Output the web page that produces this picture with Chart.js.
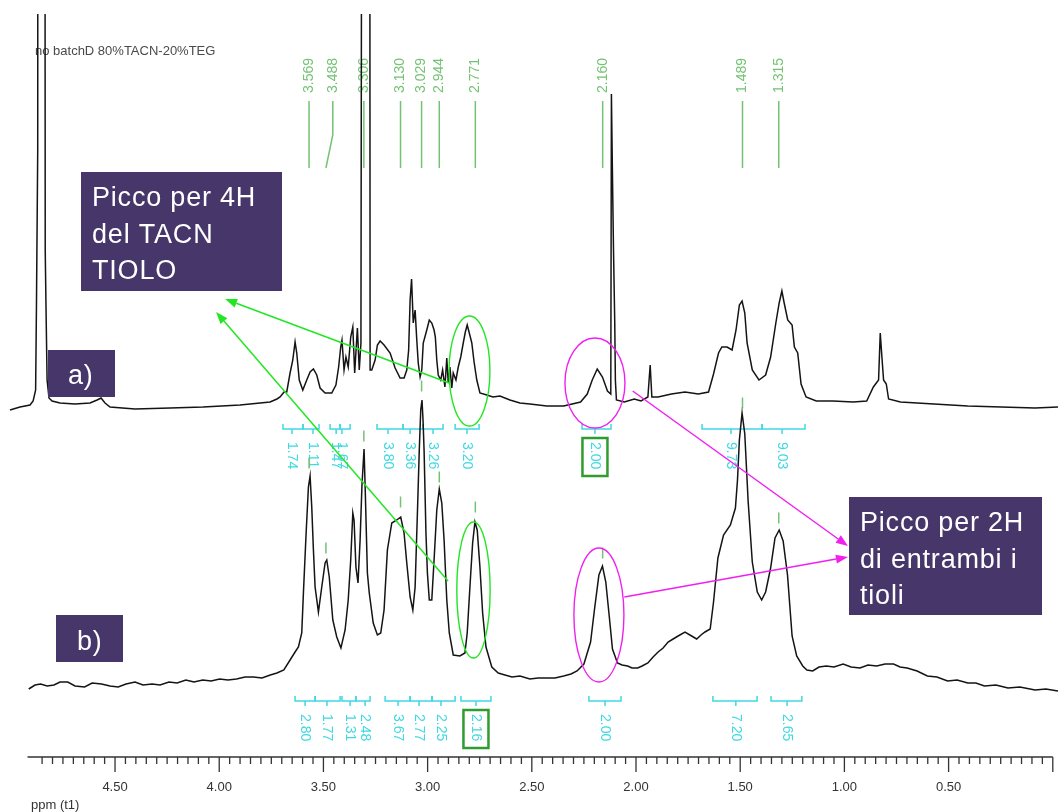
<!DOCTYPE html>
<html>
<head>
<meta charset="utf-8">
<title>1H NMR – TACN / TEG</title>
<script src="https://cdn.jsdelivr.net/npm/chart.js@4.4.1/dist/chart.umd.min.js"></script>
<style>
  html, body { margin: 0; padding: 0; background: #ffffff; }
  canvas { display: block; }
</style>
</head>
<body>
<canvas id="nmr" width="1058" height="812"></canvas>
<script>
// ---------- spectrum a) : chemical shift (ppm) and intensity ----------
const shiftA = [
  5.004, 4.956, 4.908, 4.893, 4.881, 4.877, 4.871, 4.869, 4.838, 4.835,
  4.831, 4.826, 4.817, 4.802, 4.764, 4.692, 4.620, 4.586, 4.567, 4.548,
  4.524, 4.404, 4.236, 4.078, 3.900, 3.756, 3.723, 3.708, 3.689, 3.676,
  3.660, 3.647, 3.636, 3.628, 3.616, 3.599, 3.580, 3.564, 3.548, 3.532,
  3.516, 3.492, 3.460, 3.440, 3.427, 3.417, 3.411, 3.401, 3.392, 3.381,
  3.369, 3.359, 3.350, 3.337, 3.328, 3.320, 3.312, 3.279, 3.276, 3.268,
  3.252, 3.241, 3.228, 3.209, 3.180, 3.156, 3.132, 3.113, 3.100, 3.091,
  3.084, 3.077, 3.069, 3.060, 3.052, 3.045, 3.036, 3.028, 3.021, 3.004,
  2.992, 2.980, 2.969, 2.963, 2.956, 2.949, 2.937, 2.928, 2.917, 2.908,
  2.901, 2.893, 2.884, 2.877, 2.864, 2.853, 2.841, 2.829, 2.819, 2.810,
  2.800, 2.788, 2.777, 2.764, 2.749, 2.716, 2.686, 2.653, 2.605, 2.557,
  2.509, 2.428, 2.347, 2.266, 2.234, 2.210, 2.186, 2.161, 2.137, 2.121,
  2.118, 2.114, 2.108, 2.102, 2.099, 2.094, 2.056, 2.008, 1.976, 1.943,
  1.932, 1.924, 1.894, 1.830, 1.765, 1.701, 1.652, 1.628, 1.604, 1.588,
  1.563, 1.539, 1.520, 1.504, 1.491, 1.478, 1.467, 1.442, 1.410, 1.378,
  1.354, 1.329, 1.313, 1.300, 1.289, 1.272, 1.251, 1.240, 1.224, 1.208,
  1.184, 1.135, 1.055, 0.958, 0.893, 0.861, 0.836, 0.828, 0.820, 0.812,
  0.799, 0.788, 0.731, 0.570, 0.408, 0.247, 0.085, -0.025
];
const intensA = [
  0, 3, 5, 9, 20, 105, 260, 1200, 1200, 160,
  100, 30, 12, 9, 7, 6, 7, 10, 12, 7,
  3, 1, 2, 3, 5, 8, 11, 13, 18, 18,
  37, 50, 68, 57, 30, 20, 30, 38, 41, 35,
  22, 17, 17, 25, 43, 63, 70, 40, 53, 43,
  73, 83, 37, 82, 40, 67, 1200, 1200, 40, 40,
  50, 65, 69, 65, 57, 42, 32, 32, 40, 60,
  110, 131, 87, 100, 70, 47, 33, 40, 67, 80,
  90, 87, 80, 73, 50, 35, 30, 40, 23, 52,
  27, 43, 22, 37, 30, 43, 53, 67, 78, 85,
  77, 67, 48, 30, 17, 15, 13, 14, 10, 7,
  6, 4, 4, 8, 16, 30, 41, 33, 19, 16,
  316, 250, 160, 87, 30, 10, 8, 11, 9, 13,
  45, 13, 13, 16, 18, 16, 18, 36, 57, 63,
  63, 60, 80, 105, 109, 97, 67, 40, 30, 35,
  53, 87, 107, 119, 107, 90, 85, 63, 57, 26,
  13, 9, 9, 8, 9, 23, 30, 77, 53, 30,
  26, 11, 8, 6, 4, 3, 2, 3
];

// ---------- spectrum b) ----------
const shiftB = [
  4.914, 4.884, 4.857, 4.826, 4.793, 4.764, 4.727, 4.692, 4.646, 4.610,
  4.565, 4.524, 4.485, 4.447, 4.404, 4.366, 4.322, 4.284, 4.241, 4.202,
  4.160, 4.121, 4.079, 4.039, 3.998, 3.958, 3.917, 3.876, 3.836, 3.795,
  3.755, 3.723, 3.690, 3.660, 3.636, 3.620, 3.604, 3.596, 3.583, 3.572,
  3.564, 3.556, 3.548, 3.540, 3.524, 3.508, 3.492, 3.484, 3.472, 3.455,
  3.436, 3.416, 3.396, 3.381, 3.369, 3.359, 3.353, 3.344, 3.334, 3.324,
  3.315, 3.305, 3.299, 3.289, 3.280, 3.261, 3.241, 3.225, 3.209, 3.193,
  3.172, 3.148, 3.129, 3.113, 3.100, 3.084, 3.071, 3.060, 3.049, 3.040,
  3.033, 3.027, 3.022, 3.017, 3.008, 3.001, 2.992, 2.980, 2.969, 2.956,
  2.944, 2.932, 2.921, 2.908, 2.896, 2.877, 2.845, 2.821, 2.810, 2.797,
  2.784, 2.773, 2.762, 2.749, 2.736, 2.720, 2.692, 2.661, 2.629, 2.595,
  2.557, 2.509, 2.470, 2.428, 2.389, 2.347, 2.312, 2.283, 2.250, 2.218,
  2.199, 2.178, 2.161, 2.145, 2.129, 2.113, 2.089, 2.067, 2.040, 2.019,
  1.992, 1.971, 1.943, 1.918, 1.894, 1.870, 1.846, 1.822, 1.798, 1.765,
  1.733, 1.709, 1.688, 1.669, 1.644, 1.628, 1.607, 1.580, 1.547, 1.523,
  1.513, 1.504, 1.491, 1.478, 1.462, 1.442, 1.418, 1.397, 1.378, 1.354,
  1.333, 1.313, 1.294, 1.273, 1.251, 1.229, 1.200, 1.180, 1.152, 1.122,
  1.087, 1.050, 1.006, 0.968, 0.925, 0.887, 0.845, 0.805, 0.764, 0.733,
  0.699, 0.651, 0.602, 0.556, 0.505, 0.459, 0.408, 0.369, 0.328, 0.273,
  0.215, 0.158, 0.085, 0.033, -0.025
];
const intensB = [
  1, 5, 6, 4, 5, 8, 8, 4, 3, 7,
  6, 4, 3, 6, 8, 5, 6, 5, 8, 7,
  10, 8, 10, 9, 11, 10, 11, 13, 13, 12,
  15, 17, 20, 30, 38, 43, 57, 97, 157, 203,
  214, 183, 140, 103, 78, 103, 127, 130, 113, 70,
  53, 42, 60, 90, 130, 177, 170, 123, 107, 150,
  205, 241, 197, 117, 97, 67, 55, 57, 80, 140,
  167, 170, 173, 157, 127, 93, 80, 103, 177, 240,
  280, 290, 270, 240, 157, 117, 90, 90, 130, 180,
  201, 187, 150, 90, 57, 35, 34, 37, 57, 103,
  147, 168, 160, 123, 77, 43, 23, 17, 15, 13,
  14, 11, 12, 12, 12, 14, 16, 19, 26, 48,
  81, 115, 124, 108, 75, 41, 27, 25, 24, 22,
  22, 24, 27, 33, 38, 42, 48, 51, 54, 58,
  54, 51, 55, 58, 61, 88, 132, 155, 165, 182,
  210, 250, 277, 256, 189, 128, 98, 90, 98, 122,
  152, 160, 149, 115, 54, 34, 24, 20, 19, 23,
  24, 23, 26, 23, 22, 25, 24, 26, 26, 23,
  22, 19, 14, 13, 9, 10, 7, 7, 4, 5,
  2, 3, 0, 1, -1
];

// ---------- peak picking ----------
const peakShifts   = [3.569, 3.488, 3.306, 3.130, 3.029, 2.944, 2.771, 2.160, 1.489, 1.315];
const peakLabelAt  = [3.569, 3.455, 3.306, 3.130, 3.029, 2.944, 2.771, 2.160, 1.489, 1.315];
const peakMarkB    = [227, 142, 254, 188, 304, 213, 183, 137, 287, 172];

// ---------- integrals, spectrum a) ----------
const integAFrom  = [3.694, 3.598, 3.468, 3.420, 3.243, 3.118, 3.022, 2.868, 2.259, 1.683, 1.395];
const integATo    = [3.598, 3.521, 3.420, 3.372, 3.118, 3.022, 2.926, 2.753, 2.120, 1.395, 1.189];
const integAMid   = [3.651, 3.550, 3.439, 3.411, 3.190, 3.084, 2.974, 2.811, 2.197, 1.544, 1.299];
const integAValue = ["1.74", "1.11", "1.47", "1.67", "3.80", "3.36", "3.26", "3.20", "2.00", "9.73", "9.03"];
const integARef   = 8;

// ---------- integrals, spectrum b) ----------
const integBFrom  = [3.636, 3.540, 3.411, 3.344, 3.204, 3.084, 2.979, 2.840, 2.226, 1.631, 1.352];
const integBTo    = [3.540, 3.420, 3.344, 3.276, 3.084, 2.979, 2.868, 2.696, 2.072, 1.419, 1.204];
const integBMid   = [3.588, 3.483, 3.372, 3.300, 3.142, 3.041, 2.936, 2.768, 2.149, 1.521, 1.275];
const integBValue = ["2.80", "1.77", "1.31", "2.48", "3.67", "2.77", "2.25", "2.16", "2.00", "7.20", "2.65"];
const integBRef   = 7;

// ---------- axis ----------
const axisLabels = ["4.50", "4.00", "3.50", "3.00", "2.50", "2.00", "1.50", "1.00", "0.50"];
const sampleTitle = "no batchD 80%TACN-20%TEG";
const axisTitle = "ppm (t1)";

// ---------- look ----------
const FONT = '"Liberation Sans", Arial, Helvetica, sans-serif';
const INK = '#141414';
const PEAK_GREEN = '#74c274';
const INTEG_CYAN = '#40d8e2';
const REF_GREEN = '#2f9c2f';
const ARROW_GREEN = '#22e622';
const ARROW_MAGENTA = '#f020f0';
const BOX_PURPLE = '#46366a';

// callouts: ends given as [ppm, intensity, axis]
const calloutEllipses = [
  { c: [2.799, 39, 'ya'], hw: 0.098, hh: 55, color: ARROW_GREEN },
  { c: [2.780, 100, 'yb'], hw: 0.080, hh: 68, color: ARROW_GREEN },
  { c: [2.197, 27, 'ya'], hw: 0.144, hh: 45, color: ARROW_MAGENTA },
  { c: [2.178, 75, 'yb'], hw: 0.120, hh: 67, color: ARROW_MAGENTA }
];
const calloutArrows = [
  { from: [2.897, 27, 'ya'], to: [3.972, 111, 'ya'], color: ARROW_GREEN },
  { from: [2.902, 109, 'yb'], to: [4.015, 378, 'yb'], color: ARROW_GREEN },
  { from: [2.016, 19, 'ya'], to: [0.983, -136, 'ya'], color: ARROW_MAGENTA },
  { from: [2.056, 93, 'yb'], to: [0.983, 133, 'yb'], color: ARROW_MAGENTA }
];
const calloutBoxes = [
  { x: 81, y: 172, w: 201, h: 119, lines: ["Picco per 4H", "del TACN", "TIOLO"], tx: 92, ty: 206 },
  { x: 849, y: 497, w: 193, h: 118, lines: ["Picco per 2H", "di entrambi i", "tioli"], tx: 860, ty: 531 },
  { x: 48, y: 350, w: 67, h: 47, lines: ["a)"], tx: 68, ty: 384 },
  { x: 56, y: 615, w: 67, h: 47, lines: ["b)"], tx: 77, ty: 650 }
];

function pt(chart, p) {
  return [chart.scales.x.getPixelForValue(p[0]), chart.scales[p[2]].getPixelForValue(p[1])];
}

function drawIntegrals(ctx, xs, yLine, from, to, mid, vals, ref) {
  ctx.strokeStyle = INTEG_CYAN;
  ctx.fillStyle = INTEG_CYAN;
  ctx.lineWidth = 1.5;
  for (let i = 0; i < from.length; i++) {
    const x0 = xs.getPixelForValue(from[i]);
    const x1 = xs.getPixelForValue(to[i]);
    const xm = xs.getPixelForValue(mid[i]);
    ctx.beginPath();
    ctx.moveTo(x0, yLine - 5); ctx.lineTo(x0, yLine); ctx.lineTo(x1, yLine); ctx.lineTo(x1, yLine - 5);
    ctx.moveTo(xm, yLine); ctx.lineTo(xm, yLine + 5);
    ctx.stroke();
    ctx.save();
    ctx.translate(xm, yLine + 13);
    ctx.rotate(Math.PI / 2);
    ctx.font = '14px ' + FONT;
    ctx.textAlign = 'left';
    ctx.textBaseline = 'middle';
    ctx.fillText(vals[i], 0, 0);
    ctx.restore();
    if (i === ref) {
      ctx.save();
      ctx.strokeStyle = REF_GREEN;
      ctx.lineWidth = 2.5;
      ctx.strokeRect(xm - 12.5, yLine + 9, 25, 38);
      ctx.restore();
    }
  }
}

const nmrDecor = {
  id: 'nmrDecor',
  beforeDatasetsDraw(chart) {
    const { ctx } = chart;
    const xs = chart.scales.x;
    ctx.save();

    // sample title
    ctx.fillStyle = '#4a4a4a';
    ctx.font = '13px ' + FONT;
    ctx.textAlign = 'left';
    ctx.textBaseline = 'middle';
    ctx.fillText(sampleTitle, 35, 51);

    // peak list of spectrum a) with leader lines
    peakShifts.forEach((p, i) => {
      const xl = xs.getPixelForValue(peakLabelAt[i]);
      const xp = xs.getPixelForValue(p);
      ctx.strokeStyle = PEAK_GREEN;
      ctx.lineWidth = 1.5;
      ctx.beginPath();
      ctx.moveTo(xl, 101);
      if (Math.abs(xl - xp) > 1) ctx.lineTo(xl, 135);
      ctx.lineTo(xp, 168);
      ctx.stroke();
      ctx.save();
      ctx.translate(xl, 93);
      ctx.rotate(-Math.PI / 2);
      ctx.fillStyle = PEAK_GREEN;
      ctx.font = '14px ' + FONT;
      ctx.textAlign = 'left';
      ctx.textBaseline = 'middle';
      ctx.fillText(p.toFixed(3), 0, 0);
      ctx.restore();
    });

    // integrals
    drawIntegrals(ctx, xs, chart.scales.ya.getPixelForValue(-19),
      integAFrom, integATo, integAMid, integAValue, integARef);
    drawIntegrals(ctx, xs, chart.scales.yb.getPixelForValue(-11),
      integBFrom, integBTo, integBMid, integBValue, integBRef);

    // ppm axis
    const axisY = 757;
    ctx.strokeStyle = '#333';
    ctx.fillStyle = '#333';
    ctx.lineWidth = 1.5;
    ctx.beginPath();
    ctx.moveTo(xs.getPixelForValue(4.92), axisY);
    ctx.lineTo(xs.getPixelForValue(0.0), axisY);
    ctx.stroke();
    ctx.lineWidth = 1.3;
    for (let k = 0; k <= 97; k++) {
      const v = k * 0.05;
      const px = xs.getPixelForValue(v);
      const major = k % 10 === 0;
      ctx.beginPath();
      ctx.moveTo(px, axisY);
      ctx.lineTo(px, axisY + (major ? 15 : 7));
      ctx.stroke();
    }
    ctx.font = '13px ' + FONT;
    ctx.textAlign = 'center';
    ctx.textBaseline = 'middle';
    axisLabels.forEach(t => {
      ctx.fillText(t, xs.getPixelForValue(parseFloat(t)), 787);
    });
    ctx.textAlign = 'left';
    ctx.fillText(axisTitle, 31, 805);

    ctx.restore();
  },
  afterDatasetsDraw(chart) {
    const { ctx } = chart;
    const xs = chart.scales.x;
    ctx.save();

    // ellipses
    calloutEllipses.forEach(e => {
      const [cx, cy] = pt(chart, e.c);
      const rx = Math.abs(xs.getPixelForValue(e.c[0] + e.hw) - cx);
      const ys = chart.scales[e.c[2]];
      const ry = Math.abs(ys.getPixelForValue(e.c[1] + e.hh) - cy);
      ctx.strokeStyle = e.color;
      ctx.lineWidth = 1.4;
      ctx.beginPath();
      ctx.ellipse(cx, cy, rx, ry, 0, 0, Math.PI * 2);
      ctx.stroke();
    });

    // arrows
    calloutArrows.forEach(a => {
      const [x1, y1] = pt(chart, a.from);
      const [x2, y2] = pt(chart, a.to);
      const ang = Math.atan2(y2 - y1, x2 - x1);
      const L = 12, W = 4.5;
      const bx = x2 - L * Math.cos(ang), by = y2 - L * Math.sin(ang);
      ctx.strokeStyle = a.color;
      ctx.fillStyle = a.color;
      ctx.lineWidth = 1.5;
      ctx.beginPath();
      ctx.moveTo(x1, y1);
      ctx.lineTo(bx, by);
      ctx.stroke();
      ctx.beginPath();
      ctx.moveTo(x2, y2);
      ctx.lineTo(bx - W * Math.sin(ang), by + W * Math.cos(ang));
      ctx.lineTo(bx + W * Math.sin(ang), by - W * Math.cos(ang));
      ctx.closePath();
      ctx.fill();
    });

    // text boxes
    calloutBoxes.forEach(b => {
      ctx.fillStyle = BOX_PURPLE;
      ctx.fillRect(b.x, b.y, b.w, b.h);
      ctx.fillStyle = '#ffffff';
      ctx.font = '27px ' + FONT;
      ctx.textAlign = 'left';
      ctx.textBaseline = 'alphabetic';
      if ('letterSpacing' in ctx) ctx.letterSpacing = '0.8px';
      b.lines.forEach((t, i) => ctx.fillText(t, b.tx, b.ty + i * 36.5));
      if ('letterSpacing' in ctx) ctx.letterSpacing = '0px';
    });

    ctx.restore();
  }
};

new Chart(document.getElementById('nmr'), {
  type: 'line',
  data: {
    datasets: [
      {
        label: 'a)',
        data: shiftA.map((p, i) => ({ x: p, y: intensA[i] })),
        yAxisID: 'ya',
        borderColor: INK,
        borderWidth: 1.5,
        pointRadius: 0,
        tension: 0
      },
      {
        label: 'b)',
        data: shiftB.map((p, i) => ({ x: p, y: intensB[i] })),
        yAxisID: 'yb',
        borderColor: INK,
        borderWidth: 1.5,
        pointRadius: 0,
        tension: 0
      },
      {
        label: 'picchi b)',
        type: 'scatter',
        data: peakShifts.map((p, i) => ({ x: p, y: peakMarkB[i] })),
        yAxisID: 'yb',
        pointStyle: 'line',
        rotation: 90,
        radius: 5.5,
        borderColor: PEAK_GREEN,
        borderWidth: 1.5,
        order: 5
      }
    ]
  },
  options: {
    responsive: false,
    devicePixelRatio: 1,
    animation: false,
    layout: { autoPadding: false, padding: { top: 14, left: 0, right: 0, bottom: 0 } },
    plugins: { legend: { display: false }, tooltip: { enabled: false } },
    scales: {
      x: { type: 'linear', reverse: true, min: -0.025, max: 5.052, display: false },
      ya: { type: 'linear', min: -402, max: 396, display: false },
      yb: { type: 'linear', min: -122, max: 676, display: false }
    }
  },
  plugins: [nmrDecor]
});
</script>
</body>
</html>
